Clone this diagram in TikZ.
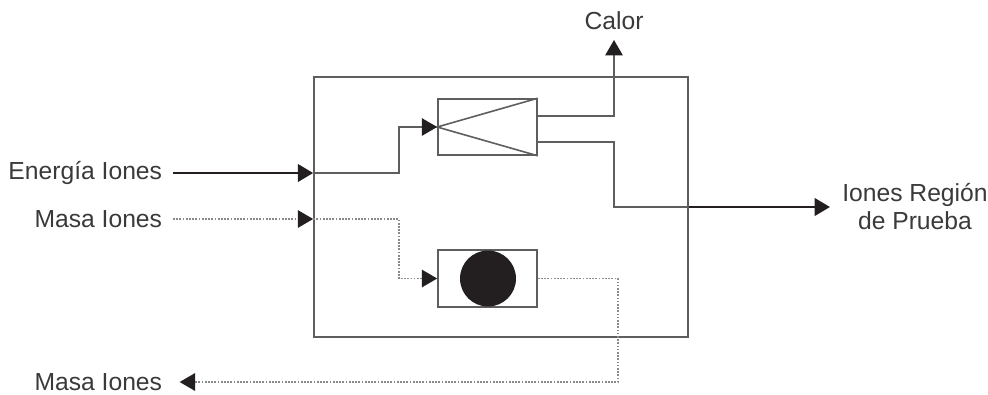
\documentclass[tikz,border=0pt]{standalone}
\usepackage{fontspec}
\setmainfont{Liberation Sans}
\usepackage{tikz}
\usetikzlibrary{arrows.meta}
\definecolor{linea}{HTML}{5E5E5E}
\definecolor{punto}{HTML}{8A8A8A}
\definecolor{negro}{HTML}{231F20}
\definecolor{texto}{HTML}{3A3A3A}
\begin{document}
\begin{tikzpicture}[x=0.75pt,y=-0.75pt,
  punta/.style={-{Triangle[length=11.5pt,width=13pt,color=negro]}},
  fina/.style={draw=linea,line width=1.2pt},
  puntos/.style={draw=punto,line width=1.4pt,dash pattern=on 1.3pt off 1.1pt},
  gruesa/.style={draw=negro,line width=2.2pt},
  caja/.style={draw=linea,line width=1.2pt,minimum width=74.25pt,minimum height=42pt,inner sep=0pt},
  etiqueta/.style={font=\fontsize{18.5}{21}\selectfont,text=texto,inner ysep=0pt,inner xsep=8pt,align=center}]
\useasboundingbox (0,0) rectangle (988,394);
\node[draw=linea,line width=1.2pt,minimum width=280.5pt,minimum height=195pt] (planta) at (501,207) {};
\node[caja] (reactor) at (487.5,127) {};
\node[caja,minimum height=42.75pt] (masabox) at (487.5,278.5) {};
\node[circle,fill=negro,minimum size=42pt,inner sep=0pt] (bola) at (488,278.5) {};
\draw[fina] (reactor.north east) -- (reactor.west) -- (reactor.south east);
\node[etiqueta,anchor=east] (energia) at (173,173) {Energía Iones};
\node[etiqueta,anchor=east] (masain) at (173,219) {Masa Iones};
\node[etiqueta,anchor=east] (masaout) at (173,382) {Masa Iones};
\node[etiqueta,anchor=south,inner xsep=0pt,inner ysep=7.5pt] (calor) at (614,40) {Calor};
\node[etiqueta,anchor=west,inner xsep=9pt] (region) at (830,207) {Iones Región\\de Prueba};
\coordinate (b0) at (399,173);
\coordinate (b1) at (399,219);
\coordinate (c1) at (537,116);
\coordinate (c2) at (537,142);
\coordinate (b2) at (614,207);
\coordinate (b3) at (618,382);
% entradas
\draw[gruesa,punta] (energia.east) -- (planta.west |- energia.east);
\draw[fina,punta] (planta.west |- energia.east) -- (b0) |- (reactor.west);
\draw[puntos,punta] (masain.east) -- (planta.west |- masain.east);
\draw[puntos,punta] (planta.west |- masain.east) -- (b1) |- (masabox.west);
% salidas
\draw[fina,punta] (c1) -| (calor.south);
\draw[fina] (c2) -| (b2) -- (planta.east |- b2);
\draw[gruesa,punta] (planta.east |- b2) -- (region.west);
\draw[puntos,punta,shorten >=5pt] (masabox.east) -| (b3) -- (masaout.east);
\end{tikzpicture}
\end{document}
